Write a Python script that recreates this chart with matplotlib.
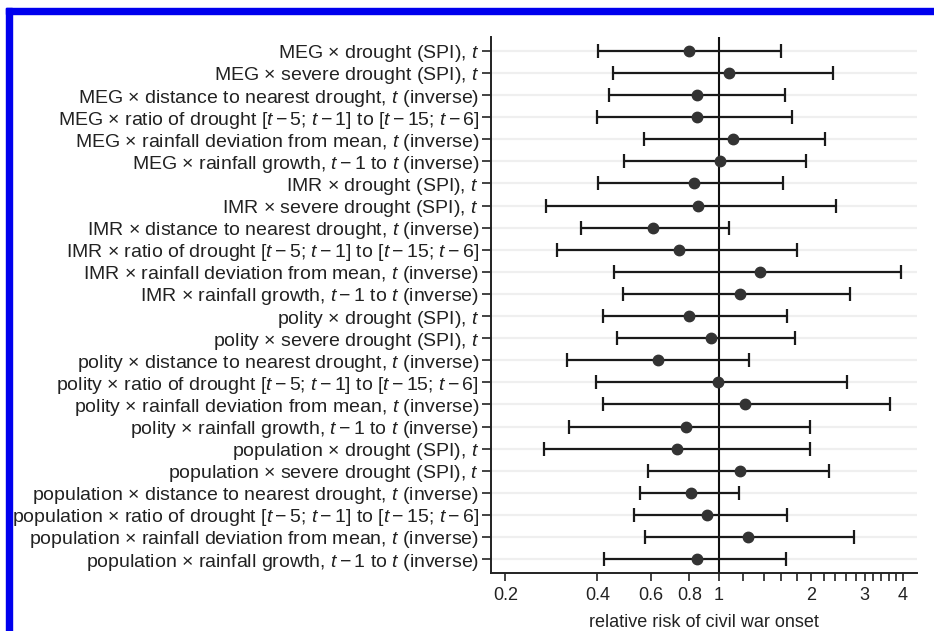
import matplotlib
matplotlib.use("Agg")
import matplotlib.pyplot as plt
from matplotlib.patches import Rectangle
from matplotlib.ticker import FixedLocator, NullFormatter
import numpy as np

plt.rcParams['font.family'] = ['Liberation Sans', 'DejaVu Sans']
plt.rcParams['mathtext.fontset'] = 'custom'
plt.rcParams['mathtext.rm'] = 'Liberation Sans'
plt.rcParams['mathtext.it'] = 'Liberation Sans:italic'

# Interaction terms, top to bottom
labels = [
    "MEG × drought (SPI), $t$",
    "MEG × severe drought (SPI), $t$",
    "MEG × distance to nearest drought, $t$ (inverse)",
    "MEG × ratio of drought [$t-5$; $t-1$] to [$t-15$; $t-6$]",
    "MEG × rainfall deviation from mean, $t$ (inverse)",
    "MEG × rainfall growth, $t-1$ to $t$ (inverse)",
    "IMR × drought (SPI), $t$",
    "IMR × severe drought (SPI), $t$",
    "IMR × distance to nearest drought, $t$ (inverse)",
    "IMR × ratio of drought [$t-5$; $t-1$] to [$t-15$; $t-6$]",
    "IMR × rainfall deviation from mean, $t$ (inverse)",
    "IMR × rainfall growth, $t-1$ to $t$ (inverse)",
    "polity × drought (SPI), $t$",
    "polity × severe drought (SPI), $t$",
    "polity × distance to nearest drought, $t$ (inverse)",
    "polity × ratio of drought [$t-5$; $t-1$] to [$t-15$; $t-6$]",
    "polity × rainfall deviation from mean, $t$ (inverse)",
    "polity × rainfall growth, $t-1$ to $t$ (inverse)",
    "population × drought (SPI), $t$",
    "population × severe drought (SPI), $t$",
    "population × distance to nearest drought, $t$ (inverse)",
    "population × ratio of drought [$t-5$; $t-1$] to [$t-15$; $t-6$]",
    "population × rainfall deviation from mean, $t$ (inverse)",
    "population × rainfall growth, $t-1$ to $t$ (inverse)",
]

# relative risk estimates and 95% interval bounds
rr = [0.80, 1.075, 0.85, 0.85, 1.11, 1.01,
      0.83, 0.855, 0.61, 0.74, 1.36, 1.17,
      0.80, 0.945, 0.63, 0.99, 1.22, 0.78,
      0.73, 1.17, 0.81, 0.915, 1.245, 0.85]
lower = [0.403, 0.449, 0.436, 0.398, 0.567, 0.489,
         0.402, 0.272, 0.353, 0.296, 0.455, 0.484,
         0.417, 0.464, 0.319, 0.395, 0.419, 0.324,
         0.267, 0.587, 0.551, 0.528, 0.574, 0.420]
upper = [1.60, 2.37, 1.65, 1.74, 2.23, 1.93,
         1.62, 2.42, 1.078, 1.80, 3.95, 2.68,
         1.67, 1.78, 1.254, 2.63, 3.64, 1.98,
         1.98, 2.29, 1.163, 1.67, 2.76, 1.66]

major_ticks = [0.2, 0.4, 0.6, 0.8, 1, 2, 3, 4]
major_labels = ["0.2", "0.4", "0.6", "0.8", "1", "2", "3", "4"]
minor_ticks = [1.2, 1.4, 1.6, 1.8, 2.2, 2.4, 2.6, 2.8, 3.2, 3.4, 3.6, 3.8]

rr = np.array(rr)
lower = np.array(lower)
upper = np.array(upper)
y = np.arange(len(labels))

fig = plt.figure(figsize=(9.34, 6.31), dpi=100)
ax = fig.add_axes([0.5257, 0.0919, 0.9818 - 0.5257, 0.9414 - 0.0919])

for yy in y:
    ax.axhline(yy, color="#efefef", lw=1.6, zorder=0)
ax.axvline(1, color="#111111", lw=1.5, zorder=1)

ax.errorbar(rr, y, xerr=[rr - lower, upper - rr], fmt="o", color="#1a1a1a",
            ecolor="#1a1a1a", elinewidth=1.6, capsize=5, capthick=1.6,
            markersize=7.5, markerfacecolor="#333333", markeredgecolor="#333333",
            zorder=3)

ax.set_xscale("log")
ax.set_xlim(0.1795, 4.45)
ax.set_ylim(23.63, -0.63)
ax.xaxis.set_major_locator(FixedLocator(major_ticks))
ax.set_xticklabels(major_labels)
ax.xaxis.set_minor_locator(FixedLocator(minor_ticks))
ax.xaxis.set_minor_formatter(NullFormatter())
ax.set_yticks(y)
ax.set_yticklabels(labels)

ax.spines["top"].set_visible(False)
ax.spines["right"].set_visible(False)
for s in ("left", "bottom"):
    ax.spines[s].set_linewidth(1.4)
    ax.spines[s].set_color("#222222")

ax.tick_params(axis="y", length=6.5, width=1.2, labelsize=14, pad=2, colors="#222222")
ax.tick_params(axis="x", which="both", length=6, width=1.2, labelsize=13, pad=4, colors="#222222")
ax.set_xlabel("relative risk of civil war onset", fontsize=13, labelpad=7, color="#222222")

# blue frame of the screenshot (top and left edges)
fig.patches.append(Rectangle((6 / 934, 0), 6 / 934, 1 - 8 / 631, transform=fig.transFigure,
                             color="#0000ee", zorder=10))
fig.patches.append(Rectangle((6 / 934, 1 - 14 / 631), 1, 6 / 631, transform=fig.transFigure,
                             color="#0000ee", zorder=10))

fig.savefig("out.png", dpi=100)
